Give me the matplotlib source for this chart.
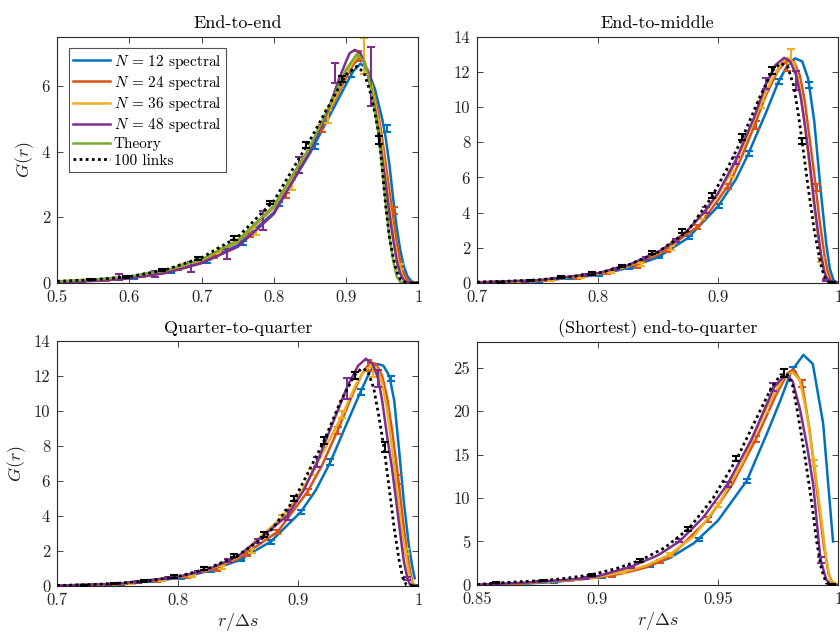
import matplotlib
matplotlib.use("Agg")
import matplotlib.pyplot as plt
from matplotlib.ticker import FuncFormatter

plt.rcParams['font.family'] = 'serif'
plt.rcParams['font.serif'] = ['cmr10', 'DejaVu Serif']
plt.rcParams['mathtext.fontset'] = 'cm'
plt.rcParams['axes.formatter.use_mathtext'] = True

C12, C24, C36, C48, CTH = '#0072BD', '#D95319', '#EDB120', '#7E2F8E', '#77AC30'

# ---------------- panel 1: end-to-end ----------------
p1_n12_x = [0.50, 0.55, 0.60, 0.65, 0.70, 0.75, 0.80, 0.85, 0.875, 0.90, 0.91, 0.92, 0.93, 0.94, 0.95, 0.955, 0.96, 0.965, 0.97, 0.975, 0.98, 0.985, 0.99, 0.995, 1.0]
p1_n12_y = [0.03, 0.07, 0.15, 0.32, 0.62, 1.15, 2.15, 3.95, 5.0, 6.05, 6.45, 6.68, 6.5, 5.9, 5.0, 4.4, 3.6, 2.6, 1.7, 1.0, 0.5, 0.2, 0.06, 0.01, 0.0]
p1_n24_x = [0.50, 0.55, 0.60, 0.65, 0.70, 0.75, 0.80, 0.85, 0.875, 0.90, 0.91, 0.918, 0.925, 0.935, 0.945, 0.95, 0.955, 0.96, 0.965, 0.97, 0.975, 0.98, 0.985, 0.99, 1.0]
p1_n24_y = [0.04, 0.08, 0.17, 0.35, 0.68, 1.25, 2.30, 4.10, 5.15, 6.25, 6.65, 6.85, 6.75, 6.1, 5.1, 4.4, 3.6, 2.8, 2.0, 1.25, 0.65, 0.28, 0.08, 0.02, 0.0]
p1_n36_x = [0.50, 0.55, 0.60, 0.65, 0.70, 0.75, 0.80, 0.85, 0.875, 0.90, 0.91, 0.918, 0.925, 0.935, 0.945, 0.95, 0.955, 0.96, 0.965, 0.97, 0.975, 0.98, 0.985, 0.99]
p1_n36_y = [0.04, 0.09, 0.18, 0.37, 0.70, 1.28, 2.33, 4.12, 5.2, 6.35, 6.75, 6.95, 6.8, 6.05, 4.9, 4.1, 3.2, 2.35, 1.55, 0.85, 0.35, 0.1, 0.02, 0.0]
p1_n48_x = [0.50, 0.55, 0.60, 0.65, 0.70, 0.75, 0.80, 0.85, 0.875, 0.89, 0.90, 0.905, 0.912, 0.92, 0.93, 0.94, 0.945, 0.95, 0.955, 0.96, 0.965, 0.97, 0.975, 0.98, 0.985, 0.99]
p1_n48_y = [0.02, 0.06, 0.14, 0.30, 0.60, 1.10, 2.10, 4.0, 5.25, 6.2, 6.75, 7.0, 7.1, 7.0, 6.4, 5.3, 4.6, 3.8, 3.0, 2.1, 1.35, 0.7, 0.28, 0.08, 0.02, 0.0]
p1_th_x = [0.50, 0.55, 0.60, 0.65, 0.70, 0.75, 0.80, 0.85, 0.875, 0.90, 0.915, 0.925, 0.935, 0.945, 0.95, 0.955, 0.96, 0.965, 0.97, 0.975, 0.98]
p1_th_y = [0.05, 0.10, 0.20, 0.38, 0.72, 1.30, 2.35, 4.15, 5.3, 6.5, 6.97, 6.75, 5.9, 4.5, 3.5, 2.4, 1.4, 0.7, 0.2, 0.03, 0.0]
p1_lk_x = [0.50, 0.55, 0.60, 0.65, 0.70, 0.75, 0.80, 0.85, 0.875, 0.90, 0.915, 0.925, 0.935, 0.945, 0.95, 0.955, 0.96, 0.965, 0.97, 0.975, 0.98, 0.99, 1.0]
p1_lk_y = [0.05, 0.10, 0.19, 0.40, 0.77, 1.40, 2.50, 4.35, 5.35, 6.35, 6.60, 6.40, 5.70, 4.60, 3.50, 2.30, 1.40, 0.80, 0.35, 0.12, 0.03, 0.0, 0.0]

p1_n12_ex = [0.557, 0.607, 0.657, 0.707, 0.757, 0.807, 0.857, 0.907, 0.957]
p1_n12_ey = [0.07, 0.16, 0.34, 0.66, 1.22, 2.40, 4.15, 6.38, 4.70]
p1_n12_ee = [0.02, 0.03, 0.04, 0.05, 0.06, 0.07, 0.08, 0.10, 0.10]
p1_n24_ex = [0.567, 0.617, 0.667, 0.717, 0.767, 0.817, 0.867, 0.917, 0.967]
p1_n24_ey = [0.09, 0.20, 0.42, 0.82, 1.45, 2.67, 4.70, 6.90, 2.20]
p1_n24_ee = [0.02, 0.03, 0.04, 0.05, 0.06, 0.08, 0.10, 0.15, 0.10]
p1_n36_ex = [0.525, 0.575, 0.625, 0.675, 0.725, 0.775, 0.825, 0.875, 0.925, 0.975]
p1_n36_ey = [0.06, 0.12, 0.26, 0.52, 0.97, 1.55, 2.98, 5.08, 6.90, 0.50]
p1_n36_ee = [0.02, 0.03, 0.04, 0.06, 0.08, 0.10, 0.15, 0.20, 0.55, 0.08]
p1_n48_ex = [0.535, 0.585, 0.635, 0.685, 0.735, 0.785, 0.835, 0.885, 0.935]
p1_n48_ey = [0.05, 0.18, 0.26, 0.49, 0.87, 1.90, 3.60, 6.40, 6.30]
p1_n48_ee = [0.03, 0.08, 0.09, 0.15, 0.15, 0.30, 0.25, 0.30, 0.90]
p1_lk_ex = [0.545, 0.595, 0.645, 0.695, 0.745, 0.795, 0.845, 0.895, 0.945, 0.995]
p1_lk_ey = [0.10, 0.18, 0.39, 0.74, 1.37, 2.45, 4.20, 6.21, 4.35, 0.0]
p1_lk_ee = [0.02, 0.02, 0.03, 0.04, 0.05, 0.06, 0.08, 0.10, 0.12, 0.01]

# ---------------- panel 2: end-to-middle ----------------
p2_n12_x = [0.70, 0.75, 0.80, 0.825, 0.85, 0.875, 0.90, 0.915, 0.925, 0.94, 0.95, 0.958, 0.964, 0.97, 0.975, 0.98, 0.985, 0.99, 0.993, 0.996, 1.0]
p2_n12_y = [0.02, 0.10, 0.45, 0.85, 1.45, 2.55, 4.35, 5.9, 7.3, 9.7, 11.4, 12.4, 12.77, 12.6, 11.6, 9.2, 5.5, 2.2, 0.8, 0.15, 0.0]
p2_n24_x = [0.70, 0.75, 0.80, 0.825, 0.85, 0.875, 0.885, 0.90, 0.91, 0.92, 0.93, 0.94, 0.95, 0.958, 0.963, 0.968, 0.972, 0.976, 0.98, 0.984, 0.988, 0.991, 0.994, 1.0]
p2_n24_y = [0.02, 0.12, 0.50, 0.92, 1.6, 2.8, 3.3, 4.7, 5.7, 7.2, 8.9, 10.7, 12.1, 12.7, 12.6, 11.8, 10.4, 8.3, 6.2, 3.8, 1.8, 0.7, 0.1, 0.0]
p2_n36_x = [0.70, 0.75, 0.80, 0.825, 0.85, 0.875, 0.89, 0.90, 0.91, 0.92, 0.935, 0.945, 0.953, 0.958, 0.963, 0.967, 0.971, 0.975, 0.979, 0.983, 0.986, 0.99, 0.993, 1.0]
p2_n36_y = [0.03, 0.14, 0.52, 0.95, 1.7, 3.0, 4.1, 5.0, 6.2, 7.6, 10.1, 11.6, 12.5, 12.8, 12.5, 11.5, 9.6, 7.3, 4.9, 2.8, 1.4, 0.4, 0.05, 0.0]
p2_n48_x = [0.70, 0.75, 0.80, 0.825, 0.85, 0.865, 0.875, 0.89, 0.90, 0.915, 0.93, 0.94, 0.948, 0.955, 0.96, 0.965, 0.969, 0.973, 0.977, 0.981, 0.985, 0.988, 0.991, 1.0]
p2_n48_y = [0.04, 0.15, 0.55, 1.0, 1.75, 2.4, 3.0, 4.15, 5.1, 7.0, 9.4, 11.3, 12.4, 12.8, 12.6, 11.8, 10.5, 8.6, 6.4, 4.0, 1.9, 0.7, 0.15, 0.0]
p2_lk_x = [0.70, 0.725, 0.75, 0.775, 0.80, 0.825, 0.85, 0.875, 0.895, 0.91, 0.92, 0.935, 0.945, 0.952, 0.958, 0.963, 0.967, 0.97, 0.975, 0.98, 0.985, 0.988, 0.992, 1.0]
p2_lk_y = [0.05, 0.10, 0.17, 0.33, 0.55, 1.0, 1.75, 2.95, 4.9, 6.8, 8.2, 10.6, 12.05, 12.5, 12.3, 11.2, 9.5, 8.0, 5.4, 3.0, 1.2, 0.4, 0.05, 0.0]

p2_n12_ex = [0.726, 0.751, 0.776, 0.801, 0.826, 0.851, 0.876, 0.901, 0.926, 0.951, 0.976]
p2_n12_ey = [0.05, 0.10, 0.25, 0.45, 0.85, 1.48, 2.58, 4.38, 7.36, 11.44, 11.25]
p2_n12_ee = [0.03, 0.04, 0.05, 0.06, 0.07, 0.08, 0.10, 0.12, 0.15, 0.15, 0.15]
p2_n24_ex = [0.733, 0.758, 0.783, 0.808, 0.833, 0.858, 0.883, 0.908, 0.932, 0.957, 0.982]
p2_n24_ey = [0.06, 0.15, 0.30, 0.55, 0.95, 1.85, 3.19, 5.47, 8.98, 12.30, 5.43]
p2_n24_ee = [0.03, 0.04, 0.05, 0.06, 0.08, 0.10, 0.12, 0.15, 0.20, 0.25, 0.20]
p2_n36_ex = [0.736, 0.761, 0.786, 0.811, 0.836, 0.861, 0.886, 0.911, 0.936, 0.961, 0.986]
p2_n36_ey = [0.07, 0.17, 0.33, 0.60, 1.05, 2.00, 3.76, 6.20, 10.17, 12.90, 1.30]
p2_n36_ee = [0.03, 0.04, 0.05, 0.06, 0.08, 0.10, 0.12, 0.15, 0.20, 0.40, 0.10]
p2_n48_ex = [0.740, 0.765, 0.790, 0.815, 0.840, 0.865, 0.890, 0.915, 0.940, 0.965, 0.990]
p2_n48_ey = [0.10, 0.25, 0.45, 0.80, 1.40, 2.40, 4.14, 6.98, 11.35, 11.50, 0.15]
p2_n48_ee = [0.03, 0.04, 0.05, 0.06, 0.08, 0.10, 0.15, 0.20, 0.30, 0.55, 0.05]
p2_lk_ex = [0.720, 0.745, 0.770, 0.795, 0.820, 0.845, 0.870, 0.895, 0.920, 0.945, 0.970, 0.995]
p2_lk_ey = [0.05, 0.15, 0.32, 0.54, 0.95, 1.74, 2.95, 4.99, 8.28, 12.07, 8.07, 0.0]
p2_lk_ee = [0.03, 0.04, 0.05, 0.06, 0.07, 0.09, 0.12, 0.15, 0.18, 0.20, 0.18, 0.03]

# ---------------- panel 3: quarter-to-quarter ----------------
p3_n12_x = [0.70, 0.75, 0.80, 0.825, 0.85, 0.8775, 0.9025, 0.915, 0.927, 0.94, 0.952, 0.96, 0.966, 0.971, 0.976, 0.98, 0.984, 0.988, 0.992, 0.995, 0.997]
p3_n12_y = [0.03, 0.12, 0.45, 0.85, 1.45, 2.55, 4.25, 5.5, 7.1, 9.2, 11.1, 12.3, 12.7, 12.6, 12.0, 10.6, 7.8, 4.8, 2.4, 1.1, 0.45]
p3_n24_x = [0.70, 0.75, 0.80, 0.825, 0.85, 0.883, 0.908, 0.92, 0.933, 0.945, 0.953, 0.96, 0.965, 0.97, 0.974, 0.978, 0.981, 0.9834, 0.987, 0.99, 0.993, 0.995, 0.997, 1.0]
p3_n24_y = [0.02, 0.10, 0.48, 0.88, 1.55, 3.1, 5.4, 6.9, 8.9, 10.9, 12.1, 12.8, 12.7, 12.0, 10.8, 9.0, 7.4, 6.1, 3.9, 2.2, 0.9, 0.25, 0.02, 0.0]
p3_n36_x = [0.70, 0.75, 0.80, 0.825, 0.85, 0.887, 0.90, 0.912, 0.925, 0.937, 0.948, 0.955, 0.961, 0.966, 0.97, 0.974, 0.978, 0.982, 0.986, 0.9895, 0.992, 0.995, 1.0]
p3_n36_y = [0.03, 0.13, 0.50, 0.92, 1.65, 3.95, 5.1, 6.5, 8.2, 9.8, 11.5, 12.3, 12.6, 12.4, 11.6, 10.1, 8.0, 5.7, 3.4, 1.9, 0.8, 0.15, 0.0]
p3_n48_x = [0.70, 0.75, 0.80, 0.825, 0.85, 0.8665, 0.8914, 0.905, 0.916, 0.93, 0.941, 0.95, 0.9565, 0.962, 0.9665, 0.97, 0.974, 0.978, 0.981, 0.985, 0.988, 0.991, 0.993, 1.0]
p3_n48_y = [0.03, 0.14, 0.52, 0.95, 1.7, 2.6, 4.05, 5.5, 7.1, 9.5, 11.4, 12.6, 13.0, 12.7, 11.9, 10.6, 8.6, 6.8, 5.2, 3.0, 1.4, 0.45, 0.1, 0.0]
p3_lk_x = [0.70, 0.725, 0.75, 0.775, 0.80, 0.825, 0.85, 0.875, 0.897, 0.91, 0.922, 0.935, 0.947, 0.953, 0.958, 0.963, 0.967, 0.9715, 0.976, 0.98, 0.984, 0.987, 0.99, 1.0]
p3_lk_y = [0.04, 0.08, 0.16, 0.30, 0.55, 1.0, 1.75, 2.95, 4.95, 6.7, 8.35, 10.5, 12.05, 12.45, 12.3, 11.3, 9.8, 7.9, 5.5, 3.3, 1.5, 0.5, 0.08, 0.0]

p3_n12_ex = [0.728, 0.753, 0.778, 0.803, 0.828, 0.853, 0.878, 0.9025, 0.927, 0.952, 0.977]
p3_n12_ey = [0.06, 0.13, 0.28, 0.48, 0.88, 1.50, 2.53, 4.24, 7.10, 11.09, 11.85]
p3_n12_ee = [0.03, 0.04, 0.05, 0.06, 0.07, 0.08, 0.10, 0.12, 0.15, 0.15, 0.15]
p3_n24_ex = [0.733, 0.758, 0.783, 0.808, 0.833, 0.858, 0.883, 0.908, 0.933, 0.958, 0.9834]
p3_n24_ey = [0.06, 0.14, 0.30, 0.55, 0.95, 1.80, 3.10, 5.38, 8.90, 12.60, 6.10]
p3_n24_ee = [0.03, 0.04, 0.05, 0.06, 0.08, 0.10, 0.12, 0.15, 0.20, 0.30, 0.25]
p3_n36_ex = [0.737, 0.762, 0.787, 0.812, 0.837, 0.862, 0.887, 0.912, 0.937, 0.962, 0.9895]
p3_n36_ey = [0.07, 0.16, 0.33, 0.60, 1.05, 2.00, 3.96, 6.52, 9.80, 12.25, 1.96]
p3_n36_ee = [0.03, 0.04, 0.05, 0.06, 0.08, 0.10, 0.12, 0.15, 0.20, 0.30, 0.15]
p3_n48_ex = [0.742, 0.767, 0.792, 0.817, 0.842, 0.8665, 0.8914, 0.916, 0.941, 0.9665, 0.991]
p3_n48_ey = [0.10, 0.24, 0.45, 0.80, 1.45, 2.60, 4.05, 7.10, 11.30, 11.85, 0.45]
p3_n48_ee = [0.03, 0.04, 0.05, 0.07, 0.08, 0.12, 0.28, 0.30, 0.58, 0.48, 0.08]
p3_lk_ex = [0.722, 0.747, 0.772, 0.797, 0.822, 0.847, 0.872, 0.897, 0.922, 0.947, 0.972, 0.997]
p3_lk_ey = [0.06, 0.15, 0.30, 0.55, 1.00, 1.75, 2.95, 5.00, 8.33, 12.04, 7.95, 0.0]
p3_lk_ee = [0.03, 0.04, 0.05, 0.06, 0.07, 0.09, 0.12, 0.15, 0.18, 0.20, 0.30, 0.03]

# ---------------- panel 4: (shortest) end-to-quarter ----------------
p4_n12_x = [0.85, 0.87, 0.88, 0.89, 0.90, 0.91, 0.92, 0.93, 0.94, 0.95, 0.962, 0.9706, 0.976, 0.9805, 0.9855, 0.9894, 0.9937, 0.9978]
p4_n12_y = [0.02, 0.15, 0.30, 0.55, 0.95, 1.45, 2.1, 3.1, 4.8, 7.4, 12.0, 17.6, 21.3, 24.6, 26.5, 25.45, 18.6, 5.0]
p4_n24_x = [0.85, 0.87, 0.89, 0.90, 0.91, 0.92, 0.93, 0.9459, 0.956, 0.9658, 0.974, 0.979, 0.9815, 0.9849, 0.988, 0.9915, 0.994, 0.996, 0.998]
p4_n24_y = [0.02, 0.20, 0.55, 0.85, 1.3, 2.0, 3.2, 7.55, 11.6, 16.8, 21.8, 24.4, 24.8, 23.2, 18.0, 10.0, 4.5, 1.2, 0.0]
p4_n36_x = [0.85, 0.87, 0.89, 0.90, 0.91, 0.92, 0.93, 0.94, 0.95, 0.96, 0.97, 0.977, 0.981, 0.984, 0.987, 0.99, 0.993, 0.995, 0.9967, 1.0]
p4_n36_y = [0.03, 0.22, 0.60, 0.92, 1.45, 2.2, 3.5, 5.6, 9.2, 14.0, 20.3, 23.8, 24.5, 23.6, 19.5, 14.0, 7.5, 3.0, 0.5, 0.0]
p4_n48_x = [0.85, 0.87, 0.89, 0.90, 0.914, 0.925, 0.934, 0.944, 0.954, 0.964, 0.9734, 0.977, 0.979, 0.981, 0.9842, 0.987, 0.9896, 0.9915, 0.9926, 0.995, 0.997, 1.0]
p4_n48_y = [0.03, 0.25, 0.65, 1.0, 2.1, 3.4, 5.0, 7.8, 11.6, 16.8, 22.8, 23.9, 24.0, 23.5, 20.1, 16.0, 11.5, 6.0, 2.9, 0.6, 0.0, 0.0]
p4_lk_x = [0.85, 0.86, 0.87, 0.878, 0.888, 0.898, 0.908, 0.918, 0.928, 0.938, 0.948, 0.958, 0.966, 0.972, 0.976, 0.979, 0.981, 0.983, 0.986, 0.9887, 0.991, 0.993, 0.995, 1.0]
p4_lk_y = [0.05, 0.25, 0.40, 0.50, 0.80, 1.2, 1.9, 2.85, 4.3, 6.5, 10.0, 14.6, 19.2, 22.6, 24.2, 24.2, 23.0, 20.0, 15.0, 10.0, 5.0, 1.8, 0.2, 0.0]

p4_n12_ex = [0.862, 0.882, 0.902, 0.922, 0.942, 0.962, 0.981]
p4_n12_ey = [0.08, 0.35, 0.95, 2.18, 5.25, 11.94, 24.80]
p4_n12_ee = [0.05, 0.08, 0.10, 0.15, 0.20, 0.25, 0.30]
p4_n24_ex = [0.867, 0.887, 0.906, 0.926, 0.946, 0.966, 0.985]
p4_n24_ey = [0.15, 0.50, 1.05, 2.70, 7.55, 16.80, 23.20]
p4_n24_ee = [0.05, 0.08, 0.10, 0.15, 0.25, 0.35, 0.40]
p4_n36_ex = [0.85, 0.87, 0.89, 0.91, 0.93, 0.95, 0.97, 0.99]
p4_n36_ey = [0.03, 0.22, 0.60, 1.45, 3.50, 9.20, 20.30, 14.00]
p4_n36_ee = [0.03, 0.05, 0.08, 0.12, 0.18, 0.25, 0.35, 0.35]
p4_n48_ex = [0.875, 0.895, 0.914, 0.934, 0.954, 0.973, 0.993]
p4_n48_ey = [0.35, 0.80, 2.10, 5.09, 11.60, 22.80, 2.87]
p4_n48_ee = [0.06, 0.08, 0.12, 0.20, 0.30, 0.45, 0.35]
p4_lk_ex = [0.8577, 0.8779, 0.8978, 0.9177, 0.9376, 0.9576, 0.9775, 0.9975]
p4_lk_ey = [0.23, 0.50, 1.15, 2.79, 6.43, 14.55, 24.40, 0.0]
p4_lk_ee = [0.05, 0.08, 0.12, 0.15, 0.20, 0.30, 0.45, 0.05]

panels = [
    dict(title='End-to-end', xlim=(0.5, 1), ylim=(0, 7.5),
         xticks=[0.5, 0.6, 0.7, 0.8, 0.9, 1.0], yticks=[0, 2, 4, 6],
         rect=[0.068, 0.553, 0.430, 0.389], ylabel=True, xlabel=False,
         series=[(p1_n12_x, p1_n12_y, p1_n12_ex, p1_n12_ey, p1_n12_ee, C12),
                 (p1_n24_x, p1_n24_y, p1_n24_ex, p1_n24_ey, p1_n24_ee, C24),
                 (p1_n36_x, p1_n36_y, p1_n36_ex, p1_n36_ey, p1_n36_ee, C36),
                 (p1_n48_x, p1_n48_y, p1_n48_ex, p1_n48_ey, p1_n48_ee, C48)],
         theory=(p1_th_x, p1_th_y),
         links=(p1_lk_x, p1_lk_y, p1_lk_ex, p1_lk_ey, p1_lk_ee)),
    dict(title='End-to-middle', xlim=(0.7, 1), ylim=(0, 14),
         xticks=[0.7, 0.8, 0.9, 1.0], yticks=[0, 2, 4, 6, 8, 10, 12, 14],
         rect=[0.568, 0.553, 0.430, 0.389], ylabel=False, xlabel=False,
         series=[(p2_n12_x, p2_n12_y, p2_n12_ex, p2_n12_ey, p2_n12_ee, C12),
                 (p2_n24_x, p2_n24_y, p2_n24_ex, p2_n24_ey, p2_n24_ee, C24),
                 (p2_n36_x, p2_n36_y, p2_n36_ex, p2_n36_ey, p2_n36_ee, C36),
                 (p2_n48_x, p2_n48_y, p2_n48_ex, p2_n48_ey, p2_n48_ee, C48)],
         theory=None,
         links=(p2_lk_x, p2_lk_y, p2_lk_ex, p2_lk_ey, p2_lk_ee)),
    dict(title='Quarter-to-quarter', xlim=(0.7, 1), ylim=(0, 14),
         xticks=[0.7, 0.8, 0.9, 1.0], yticks=[0, 2, 4, 6, 8, 10, 12, 14],
         rect=[0.068, 0.074, 0.430, 0.387], ylabel=True, xlabel=True,
         series=[(p3_n12_x, p3_n12_y, p3_n12_ex, p3_n12_ey, p3_n12_ee, C12),
                 (p3_n24_x, p3_n24_y, p3_n24_ex, p3_n24_ey, p3_n24_ee, C24),
                 (p3_n36_x, p3_n36_y, p3_n36_ex, p3_n36_ey, p3_n36_ee, C36),
                 (p3_n48_x, p3_n48_y, p3_n48_ex, p3_n48_ey, p3_n48_ee, C48)],
         theory=None,
         links=(p3_lk_x, p3_lk_y, p3_lk_ex, p3_lk_ey, p3_lk_ee)),
    dict(title='(Shortest) end-to-quarter', xlim=(0.85, 1), ylim=(0, 28),
         xticks=[0.85, 0.9, 0.95, 1.0], yticks=[0, 5, 10, 15, 20, 25],
         rect=[0.568, 0.076, 0.430, 0.384], ylabel=False, xlabel=True,
         series=[(p4_n12_x, p4_n12_y, p4_n12_ex, p4_n12_ey, p4_n12_ee, C12),
                 (p4_n24_x, p4_n24_y, p4_n24_ex, p4_n24_ey, p4_n24_ee, C24),
                 (p4_n36_x, p4_n36_y, p4_n36_ex, p4_n36_ey, p4_n36_ee, C36),
                 (p4_n48_x, p4_n48_y, p4_n48_ex, p4_n48_ey, p4_n48_ee, C48)],
         theory=None,
         links=(p4_lk_x, p4_lk_y, p4_lk_ex, p4_lk_ey, p4_lk_ee)),
]

labels = [r'$N\,=\,12$ spectral', r'$N\,=\,24$ spectral',
          r'$N\,=\,36$ spectral', r'$N\,=\,48$ spectral']

fig = plt.figure(figsize=(8.4, 6.33), dpi=100)
fmt = FuncFormatter(lambda v, p: '%g' % v)
AX = '#262626'

for k, pn in enumerate(panels):
    ax = fig.add_axes(pn['rect'])
    handles = []
    for (x, y, ex, ey, ee, c), lab in zip(pn['series'], labels):
        h, = ax.plot(x, y, color=c, lw=1.8, label=lab, zorder=2)
        ax.errorbar(ex, ey, yerr=ee, fmt='none', ecolor=c, elinewidth=1.5,
                    capsize=3, capthick=1.5, zorder=2)
        handles.append(h)
    if pn['theory'] is not None:
        tx, ty = pn['theory']
        h, = ax.plot(tx, ty, color=CTH, lw=1.8, label='Theory', zorder=3)
        handles.append(h)
    lx, ly, lex, ley, lee = pn['links']
    h, = ax.plot(lx, ly, color='k', ls=(0, (1, 1.2)), lw=2.0, label='100 links', zorder=4)
    ax.errorbar(lex, ley, yerr=lee, fmt='none', ecolor='k', elinewidth=1.5,
                capsize=3, capthick=1.5, zorder=4)
    handles.append(h)

    ax.set_xlim(*pn['xlim'])
    ax.set_ylim(*pn['ylim'])
    ax.set_xticks(pn['xticks'])
    ax.set_yticks(pn['yticks'])
    ax.xaxis.set_major_formatter(fmt)
    ax.yaxis.set_major_formatter(fmt)
    ax.tick_params(direction='in', top=True, right=True, length=4, width=0.6,
                   labelsize=12, colors=AX, pad=5)
    for s in ax.spines.values():
        s.set_linewidth(0.8)
        s.set_color(AX)
    ax.set_title(pn['title'], fontsize=13, color='k', pad=6)
    if pn['ylabel']:
        ax.set_ylabel('$G(r)$', fontsize=13, color=AX, labelpad=4)
    if pn['xlabel']:
        ax.set_xlabel(r'$r/\Delta s$', fontsize=13, color=AX, labelpad=2)
    if k == 0:
        leg = ax.legend(handles=handles, loc='upper left', fontsize=11,
                        frameon=True, fancybox=False, edgecolor=AX,
                        borderpad=0.3, labelspacing=0.2, handlelength=2.4,
                        handletextpad=0.25, borderaxespad=0.75)
        leg.get_frame().set_linewidth(0.8)

fig.savefig('out.png', dpi=100)
